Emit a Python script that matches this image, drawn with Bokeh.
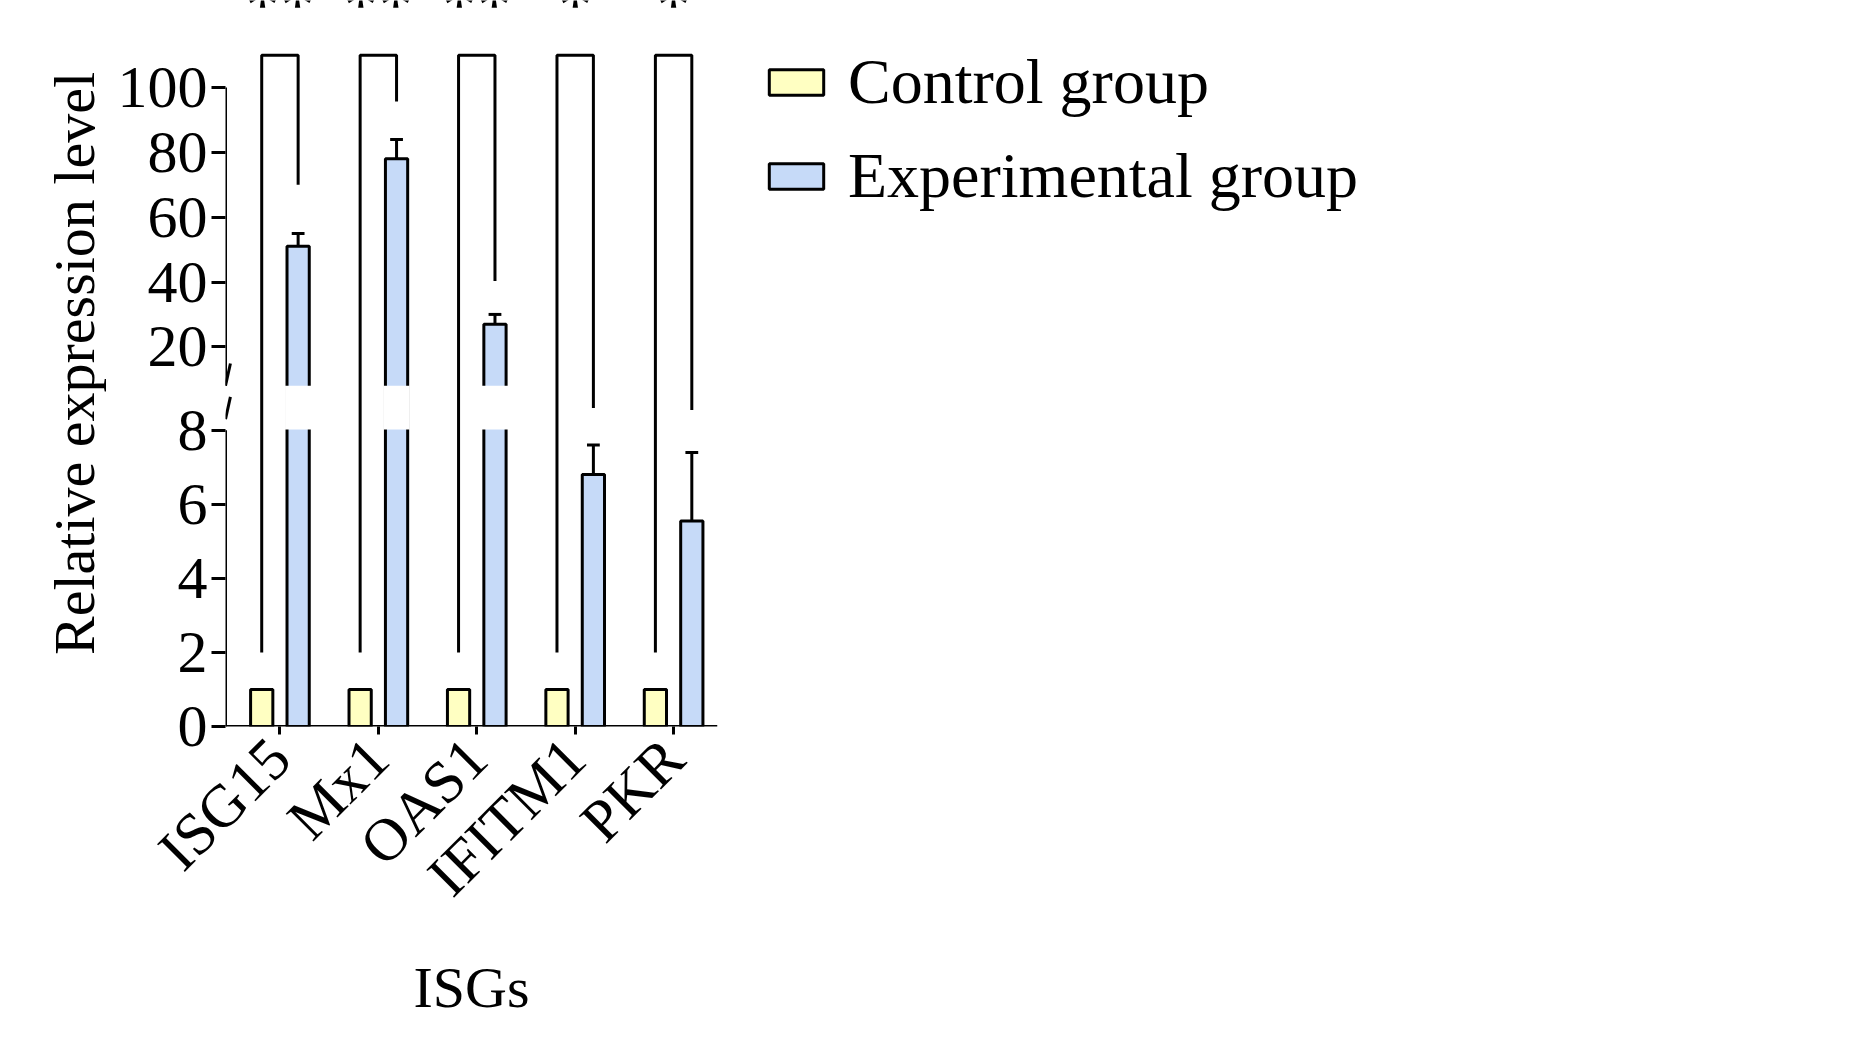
import math
from bokeh.plotting import figure
from bokeh.models import FixedTicker, Legend, LegendItem
from bokeh.embed import file_html
from bokeh.resources import INLINE
from bokeh.core.properties import value

genes = ["ISG15", "Mx1", "OAS1", "IFITM1", "PKR"]
control = [1, 1, 1, 1, 1]
experimental = [51, 78, 27, 6.8, 5.55]
experimental_err = [4, 6, 3, 0.8, 1.85]
sig = ["**", "**", "**", "*", "*"]
bracket_left_bottom = [2, 2, 2, 2, 2]
bracket_right_bottom = [70, 95.7, 40.3, 11.2, 10.9]
bracket_top = 110
y_ticks = [0, 2, 4, 6, 8, 20, 40, 60, 80, 100]

def ty(v):
    if v <= 8:
        return v
    if v <= 20:
        return 8 + (v - 8) * 2.25 / 12
    return 10.25 + (v - 20) * 0.0875

FONT = "Liberation Serif"
S = 1.17
p = figure(width=1835, height=1030, x_range=(0.447, 5.446), y_range=(0, 19.6),
           output_backend="svg", toolbar_location=None,
           min_border_left=int(193 * S), min_border_right=0,
           min_border_top=0, min_border_bottom=int((880 - 620) * S))
p.grid.visible = False
p.outline_line_color = None
p.background_fill_color = "white"

off, w = 0.185, 0.226
xc = [i + 1 - off for i in range(5)]
xe = [i + 1 + off for i in range(5)]
rc = p.vbar(x=xc, top=[ty(v) for v in control], width=w, fill_color="#FFFFC2",
            line_color="black", line_width=3)
re_ = p.vbar(x=xe, top=[ty(v) for v in experimental], width=w, fill_color="#C6DAF8",
             line_color="black", line_width=3)
for x, v in zip(xe, experimental):
    if v > 20:
        p.quad(left=x - w / 2 - 0.02, right=x + w / 2 + 0.02, bottom=8.02, top=9.2,
               fill_color="white", line_color=None)
for x, v, e in zip(xe, experimental, experimental_err):
    p.segment(x0=x, y0=ty(v), x1=x, y1=ty(v + e), line_color="black", line_width=3)
    p.segment(x0=x - 0.065, y0=ty(v + e), x1=x + 0.065, y1=ty(v + e), line_color="black", line_width=3)
for a, b, lb, rb, s in zip(xc, xe, bracket_left_bottom, bracket_right_bottom, sig):
    p.line(x=[a, a, b, b], y=[ty(lb), ty(bracket_top), ty(bracket_top), ty(rb)],
           line_color="black", line_width=3)
    p.text(x=[(a + b) / 2], y=[18.45], text=[s], text_align="center",
           text_baseline="bottom", text_font=value(FONT), text_font_size="70px",
           text_color="black")
x0 = 0.447
p.segment(x0=x0, y0=0, x1=x0, y1=ty(8), line_color="black", line_width=3)
p.segment(x0=x0, y0=9.2, x1=x0, y1=ty(100), line_color="black", line_width=3)
p.segment(x0=[x0, x0], y0=[8.3, 9.2], x1=[x0 + 0.05, x0 + 0.05],
          y1=[8.9, 9.8], line_color="black", line_width=3)
p.segment(x0=x0, y0=0, x1=5.446, y1=0, line_color="black", line_width=3)

ya = p.yaxis[0]
ya.ticker = FixedTicker(ticks=[ty(v) for v in y_ticks])
ya.major_label_overrides = {ty(v): str(v) for v in y_ticks}
ya.axis_line_color = None
ya.major_tick_line_width = 3
ya.major_tick_out = 14
ya.major_tick_in = 0
ya.minor_tick_line_color = None
ya.major_label_text_font = FONT
ya.major_label_text_font_size = "60px"
ya.major_label_text_color = "black"
ya.major_label_standoff = 4
ya.axis_label = "Relative expression level"
ya.axis_label_text_font = FONT
ya.axis_label_text_font_style = "normal"
ya.axis_label_text_font_size = "58px"
ya.axis_label_text_color = "black"
ya.axis_label_standoff = 8

xa = p.xaxis[0]
xa.ticker = FixedTicker(ticks=[1, 2, 3, 4, 5])
xa.major_label_overrides = {i + 1: g for i, g in enumerate(genes)}
xa.major_label_orientation = math.pi / 4
xa.axis_line_color = None
xa.major_tick_line_width = 3
xa.major_tick_out = 8
xa.major_tick_in = 0
xa.minor_tick_line_color = None
xa.major_label_text_font = FONT
xa.major_label_text_font_size = "60px"
xa.major_label_text_color = "black"
xa.major_label_standoff = 14
xa.axis_label = "ISGs"
xa.axis_label_text_font = FONT
xa.axis_label_text_font_style = "normal"
xa.axis_label_text_font_size = "58px"
xa.axis_label_text_color = "black"
xa.axis_label_standoff = 20

leg = Legend(items=[LegendItem(label="Control group", renderers=[rc]),
                    LegendItem(label="Experimental group", renderers=[re_])],
             location="top_left", border_line_color=None, background_fill_alpha=0,
             label_text_font=FONT, label_text_font_size="64px", label_text_color="black",
             glyph_width=68, glyph_height=32, spacing=20, margin=45, padding=10,
             label_standoff=18)
p.add_layout(leg, "right")

open("out.html", "w").write(file_html(p, INLINE))
